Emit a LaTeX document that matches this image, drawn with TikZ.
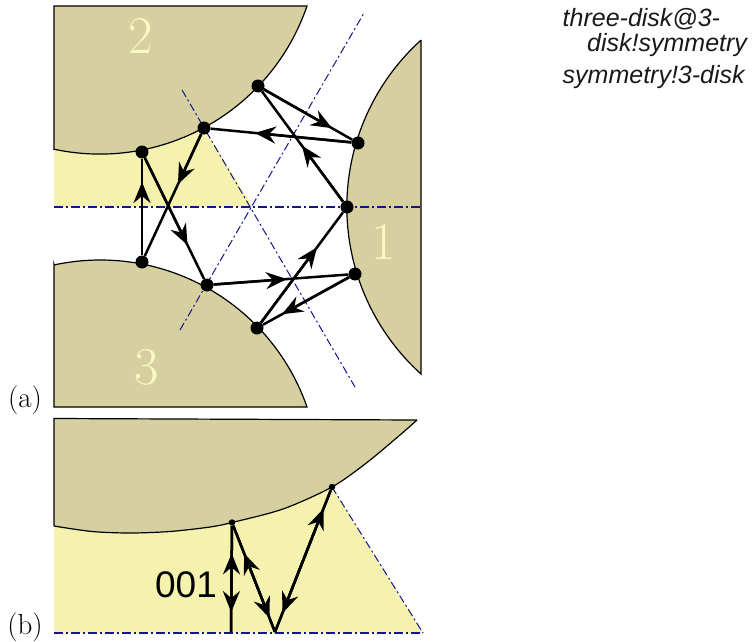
\documentclass[tikz,border=0pt]{standalone}
\usepackage{fontspec}
\usetikzlibrary{arrows.meta,calc}
\newfontfamily\helv{Liberation Sans}
\definecolor{disktan}{HTML}{D6CFA0}
\definecolor{wedge}{HTML}{F4F2AE}
\definecolor{digit}{HTML}{FBF9C2}
\definecolor{axis}{HTML}{14148C}
\tikzset{
  disk/.style={fill=disktan,draw=black,line width=1.2pt},
  wedgefill/.style={fill=wedge,draw=none},
  axisline/.style={draw=axis,line width=1.1pt,dash pattern=on 9pt off 3pt on 2pt off 3pt},
  axisthin/.style={draw=axis,line width=1pt,dash pattern=on 8pt off 3pt on 2pt off 3pt},
  bigdot/.style={circle,fill=black,inner sep=0pt,minimum size=13pt},
  smalldot/.style={circle,fill=black,inner sep=0pt,minimum size=6.5pt},
  trajline/.style={draw=black,line width=2.5pt},
  tipline/.style={draw=black,line width=2.5pt,-{Stealth[length=21pt,width=17pt,inset=7pt]}},
  disknum/.style={text=digit,font=\fontsize{53}{53}\selectfont,inner sep=0pt},
  panel/.style={font=\fontsize{29}{29}\selectfont,inner sep=0pt},
  seq/.style={font=\helv\fontsize{37}{37}\selectfont,inner sep=0pt},
  indexnote/.style={font=\helv\itshape\fontsize{25}{25}\selectfont,inner sep=0pt,anchor=base west,text=black!90}
}
\newcommand{\traj}[3]{\draw[tipline] (#1) -- ($(#1)!#3!(#2)$);}
\begin{document}
\begin{tikzpicture}[x=1pt,y=-1pt]
\useasboundingbox (0,0) rectangle (752,642);
% panel (a)
\path[wedgefill] (54,207) -- (54,149) arc[start angle=102.1,end angle=61.7,radius=219] -- (253,207) -- cycle;
\path[disk] (54,149) -- (54,6) -- (307,6) arc[start angle=18.9,end angle=102.1,radius=219] -- cycle;
\path[disk] (54,264) -- (54,407) -- (307,407) arc[start angle=-19.2,end angle=-102.1,radius=219] -- cycle;
\path[disk] (421,40) -- (421,374) arc[start angle=132.1,end angle=227.9,radius=225] -- cycle;
\coordinate (hl) at (54,207); \coordinate (hr) at (421,207);
\coordinate (ul) at (180,330); \coordinate (ur) at (364,13);
\coordinate (dl) at (182,90); \coordinate (dr) at (355,387);
\draw[axisline] (hl) -- (hr);
\draw[axisthin] (ul) -- (ur);
\draw[axisthin] (dl) -- (dr);
\node[bigdot] (a1) at (258,86) {};
\node[bigdot] (a2) at (358,143) {};
\node[bigdot] (a3) at (204,128) {};
\node[bigdot] (a4) at (142,152) {};
\node[bigdot] (a5) at (347,207) {};
\node[bigdot] (a6) at (142,262) {};
\node[bigdot] (a7) at (207,285) {};
\node[bigdot] (a8) at (355,274) {};
\node[bigdot] (a9) at (257,328) {};
\draw[trajline] (a1) -- (a2);
\draw[trajline] (a2) -- (a3);
\draw[trajline] (a5) -- (a1);
\draw[trajline] (a3) -- (a6);
\draw[trajline] (a6) -- (a4);
\draw[trajline] (a4) -- (a7);
\draw[trajline] (a7) -- (a8);
\draw[trajline] (a8) -- (a9);
\draw[trajline] (a9) -- (a5);
\traj{a1}{a2}{.74}
\traj{a2}{a3}{.67}
\traj{a5}{a1}{.506}
\traj{a3}{a6}{.42}
\traj{a6}{a4}{.727}
\traj{a4}{a7}{.70}
\traj{a7}{a8}{.54}
\traj{a8}{a9}{.745}
\traj{a9}{a5}{.667}
\node[disknum] (n2) at (141,36) {2};
\node[disknum] (n3) at (147,367) {3};
\node[disknum] (n1) at (384,242) {1};
\node[panel] (pa) at (25,400) {(a)};
% panel (b)
\path[wedgefill] (54,526) plot[smooth] coordinates {(54,526) (92,531.5) (130,533) (170,531.5) (210,527) (232,522.5) (283,509) (332,487)} -- (423,633) -- (54,633) -- cycle;
\path[disk] (54,526) -- (54,418.5) -- (417,420) plot[smooth] coordinates {(417,420) (400,435) (367,462.5) (332,487) (283,509) (232,522.5) (210,527) (170,531.5) (130,533) (92,531.5) (54,526)};
\coordinate (bl) at (54,633); \coordinate (br) at (423,633); \coordinate (bt) at (332,487);
\draw[axisline] (bl) -- (br);
\draw[axisthin] (bt) -- (br);
\node[smalldot] (p1) at (232,522.5) {};
\node[smalldot] (p2) at (332,487) {};
\coordinate (q1) at (231,632);
\coordinate (q2) at (275,632);
\draw[trajline] (q1) -- (p1);
\draw[trajline] (p1) -- (q2);
\draw[trajline] (q2) -- (p2);
\traj{q1}{p1}{.718}
\traj{p1}{q1}{.818}
\traj{p1}{q2}{.873}
\traj{q2}{p1}{.718}
\traj{q2}{p2}{.85}
\traj{p2}{q2}{.87}
\node[seq] (code) at (186,585) {001};
\node[panel] (pb) at (25,627) {(b)};
% index notes
\node[indexnote] (t1) at (562.5,27) {three-disk@3-};
\node[indexnote] (t2) at (587,52) {disk!symmetry};
\node[indexnote] (t3) at (562.5,83) {symmetry!3-disk};
\end{tikzpicture}
\end{document}
